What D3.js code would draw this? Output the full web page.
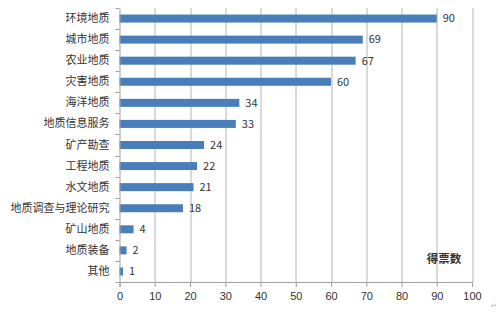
<!DOCTYPE html>
<html>
<head>
<meta charset="utf-8">
<script src="https://cdn.jsdelivr.net/npm/d3@7"></script>
<style>
  body { margin: 0; background: #fff; }
  svg text { font-family: "Noto Sans CJK SC", "Liberation Sans", sans-serif; }
</style>
</head>
<body>
<div id="viz"></div>
<script>
// chart data
var categories = ["环境地质", "城市地质", "农业地质", "灾害地质", "海洋地质", "地质信息服务", "矿产勘查",
                  "工程地质", "水文地质", "地质调查与理论研究", "矿山地质", "地质装备", "其他"];
var votes = [90, 69, 67, 60, 34, 33, 24, 22, 21, 18, 4, 2, 1];
var xTicks = [0, 10, 20, 30, 40, 50, 60, 70, 80, 90, 100];
var axisTitle = "得票数";

var W = 500, H = 314;
var margin = {top: 8, right: 28, bottom: 32, left: 119.5};

var svg = d3.select("#viz").append("svg")
    .attr("width", W)
    .attr("height", H);

var g = svg.append("g")
    .attr("transform", "translate(" + margin.left + "," + margin.top + ")");

var width = W - margin.left - margin.right,
    height = H - margin.top - margin.bottom;

var x = d3.scaleLinear().domain([0, 100]).range([0, width]);
var y = d3.scaleBand().domain(categories).range([0, height]).paddingInner(0.62).paddingOuter(0.31);

// vertical gridlines
g.append("g")
    .selectAll("line")
    .data(xTicks.slice(1))
    .enter().append("line")
    .attr("x1", function(d) { return Math.round(x(d)) + 0.5; })
    .attr("x2", function(d) { return Math.round(x(d)) + 0.5; })
    .attr("y1", 0)
    .attr("y2", height)
    .attr("stroke", "#b4b4b4")
    .attr("stroke-width", 1);

// bars
g.append("g")
    .selectAll("rect")
    .data(votes)
    .enter().append("rect")
    .attr("x", x(0))
    .attr("y", function(d, i) { return y(categories[i]); })
    .attr("width", function(d) { return x(d) - x(0); })
    .attr("height", y.bandwidth())
    .attr("fill", "#4a7ebb");

// value labels
g.append("g")
    .selectAll("text")
    .data(votes)
    .enter().append("text")
    .attr("x", function(d) { return x(d) + 6; })
    .attr("y", function(d, i) { return y(categories[i]) + y.bandwidth() / 2; })
    .attr("dy", "0.35em")
    .attr("font-size", 11)
    .attr("fill", "#333")
    .text(function(d) { return d; });

// x axis
var xAxis = g.append("g")
    .attr("transform", "translate(0," + height + ")")
    .call(d3.axisBottom(x).tickValues(xTicks).tickSize(5).tickPadding(5));
xAxis.select(".domain").attr("stroke", "#a0a0a0");
xAxis.selectAll(".tick line").attr("stroke", "#a0a0a0");
xAxis.selectAll("text").attr("font-size", 11).attr("fill", "#333")
    .style("font-family", "'Liberation Sans', sans-serif");

// y axis, ticks at band boundaries
var yAxis = g.append("g")
    .call(d3.axisLeft(y).tickSize(0).tickPadding(10));
yAxis.select(".domain").attr("stroke", "#a0a0a0");
yAxis.selectAll("text").attr("font-size", 11).attr("fill", "#333");
yAxis.selectAll(".bound")
    .data(d3.range(categories.length + 1))
    .enter().append("line")
    .attr("class", "bound")
    .attr("x1", -4).attr("x2", 0)
    .attr("y1", function(i) { return Math.round(i * height / categories.length) + 0.5; })
    .attr("y2", function(i) { return Math.round(i * height / categories.length) + 0.5; })
    .attr("stroke", "#a0a0a0");

// axis title
svg.append("text")
    .attr("x", 444)
    .attr("y", 259)
    .attr("dy", "0.35em")
    .attr("text-anchor", "middle")
    .attr("font-size", 11.5)
    .attr("font-weight", "bold")
    .attr("fill", "#333")
    .text(axisTitle);

// paragraph mark from the source document
svg.append("text")
    .attr("x", 491)
    .attr("y", 308)
    .attr("font-size", 7)
    .attr("fill", "#aaa")
    .text("↵");
</script>
</body>
</html>
